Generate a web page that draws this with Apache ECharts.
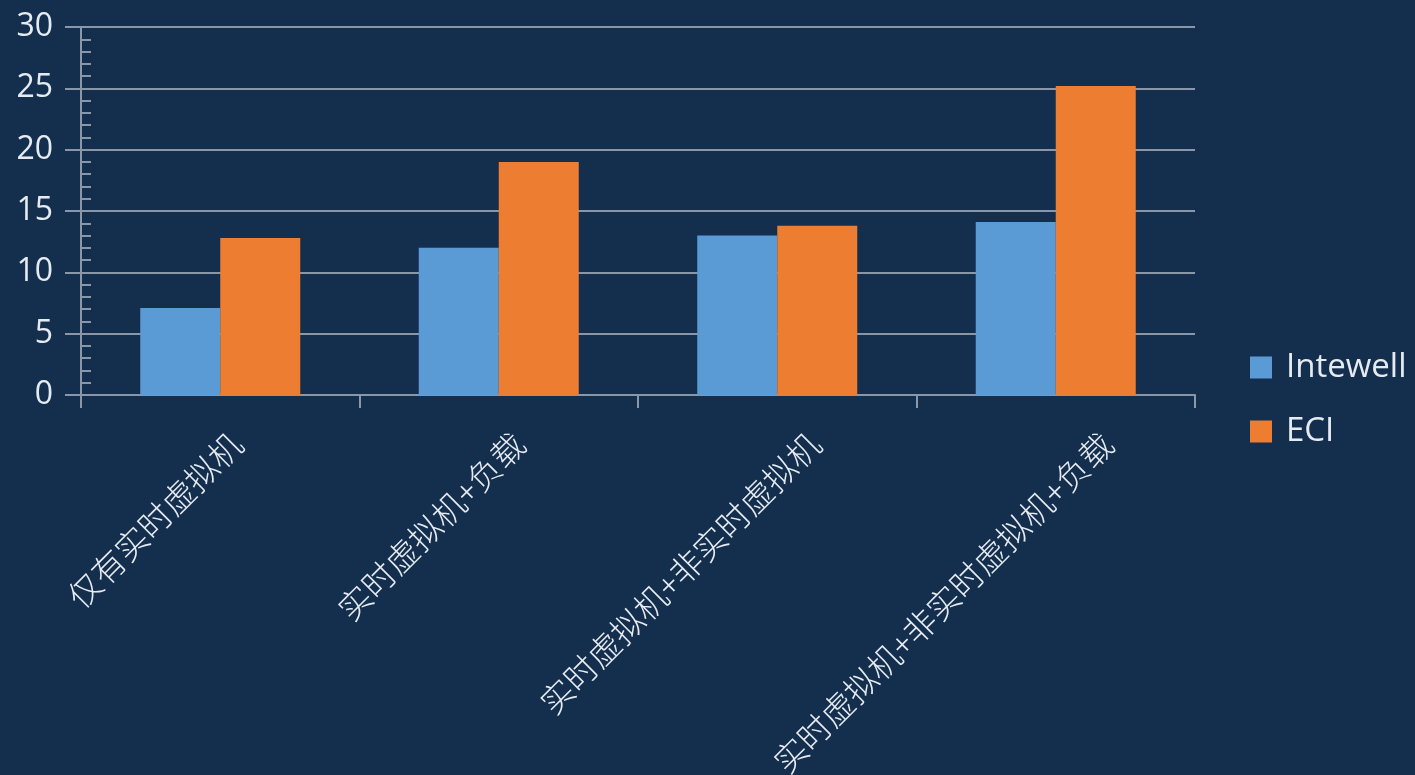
<!DOCTYPE html>
<html>
<head>
<meta charset="utf-8">
<script src="https://cdn.jsdelivr.net/npm/echarts@6/dist/echarts.min.js"></script>
<style>
html,body{margin:0;padding:0;background:#142f4e;}
#chart{width:1415px;height:775px;}
</style>
</head>
<body>
<div id="chart"></div>
<script>
const categories = ['仅有实时虚拟机', '实时虚拟机+负载', '实时虚拟机+非实时虚拟机', '实时虚拟机+非实时虚拟机+负载'];
const seriesNames = ['Intewell', 'ECI'];
const intewell = [7.1, 12.0, 13.0, 14.1];
const eci = [12.8, 19.0, 13.8, 25.2];
const yTicks = [0, 5, 10, 15, 20, 25, 30];

const gridColor = '#8a97a8';
const textColor = '#e6ebf1';
// per-label shift (padding top, right) to mimic the reference placement
const labelPad = [[96, 25], [102, 22], [126, 10], [146, 0]];
const rich = {};
labelPad.forEach((p, i) => {
  rich['p' + i] = {
    padding: [p[0], p[1], 0, 0],
    color: textColor,
    fontSize: 33,
    fontWeight: 300,
    fontFamily: 'Noto Sans CJK SC'
  };
});

const chart = echarts.init(document.getElementById('chart'), null, {renderer: 'canvas'});
const option = {
  backgroundColor: '#142f4e',
  animation: false,
  color: ['#5b9bd5', '#ed7d31'],
  grid: {left: 81, right: 220, top: 27, bottom: 380, containLabel: false, outerBoundsMode: 'none'},
  legend: {
    orient: 'vertical',
    left: 1245,
    top: 346,
    itemWidth: 22,
    itemHeight: 22,
    itemGap: 31,
    icon: 'rect',
    data: seriesNames,
    textStyle: {color: textColor, fontSize: 33, fontFamily: 'Open Sans', lineHeight: 31, padding: [0, 0, 0, 9]}
  },
  xAxis: {
    type: 'category',
    data: categories,
    axisLine: {show: true, lineStyle: {color: gridColor, width: 2}},
    axisTick: {show: true, length: 13, lineStyle: {color: gridColor, width: 2}},
    axisLabel: {
      interval: 0,
      rotate: 45,
      margin: -8,
      color: textColor,
      fontSize: 33,
      fontFamily: 'Noto Sans CJK SC',
      formatter: (v, i) => '{p' + i + '|' + v + '}',
      rich: rich
    }
  },
  yAxis: [{
    type: 'value',
    min: yTicks[0],
    max: yTicks[yTicks.length - 1],
    interval: 5,
    axisLine: {show: true, lineStyle: {color: gridColor, width: 2}},
    axisTick: {show: true, length: 16, lineStyle: {color: gridColor, width: 2}},
    axisLabel: {color: textColor, fontSize: 32, fontFamily: 'Open Sans', margin: 28},
    splitLine: {show: true, lineStyle: {color: gridColor, width: 2}}
  }, {
    type: 'value',
    position: 'left',
    min: yTicks[0],
    max: yTicks[yTicks.length - 1],
    interval: 5,
    axisLine: {show: false},
    axisTick: {show: false, inside: true},
    minorTick: {show: true, splitNumber: 5, length: 10, lineStyle: {color: gridColor, width: 2}},
    axisLabel: {show: false},
    splitLine: {show: false}
  }],
  series: [{
    name: seriesNames[0],
    type: 'bar',
    data: intewell,
    barWidth: 80,
    barGap: '0%'
  }, {
    name: seriesNames[1],
    type: 'bar',
    data: eci,
    barWidth: 80,
    barGap: '0%'
  }]
};
chart.setOption(option);
</script>
</body>
</html>
